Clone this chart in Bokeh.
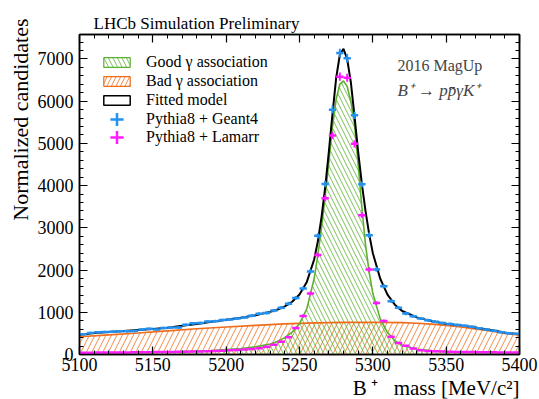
import numpy as np
from bokeh.plotting import figure
from bokeh.models import (Range1d, LinearAxis, SingleIntervalTicker, Label, Title,
                          Legend, LegendItem)
from bokeh.embed import file_html
from bokeh.resources import INLINE

# ---- data -------------------------------------------------------------
bin_centers = [5102.5, 5107.5, 5112.5, 5117.5, 5122.5, 5127.5, 5132.5, 5137.5, 5142.5, 5147.5,
               5152.5, 5157.5, 5162.5, 5167.5, 5172.5, 5177.5, 5182.5, 5187.5, 5192.5, 5197.5,
               5202.5, 5207.5, 5212.5, 5217.5, 5222.5, 5227.5, 5232.5, 5237.5, 5242.5, 5247.5,
               5252.5, 5257.5, 5262.5, 5267.5, 5272.5, 5277.5, 5282.5, 5287.5, 5292.5, 5297.5,
               5302.5, 5307.5, 5312.5, 5317.5, 5322.5, 5327.5, 5332.5, 5337.5, 5342.5, 5347.5,
               5352.5, 5357.5, 5362.5, 5367.5, 5372.5, 5377.5, 5382.5, 5387.5, 5392.5, 5397.5]
bin_half_width = 2.5

geant4 = [480, 510, 525, 535, 540, 548, 550, 558, 590, 612,
          590, 630, 640, 640, 705, 740, 745, 780, 790, 815,
          830, 850, 875, 920, 965, 985, 1040, 1110, 1205, 1340,
          1563, 1969, 2810, 4040, 5800, 7140, 7016, 5667, 4030, 2826,
          2016, 1615, 1260, 1110, 970, 905, 850, 810, 775, 745,
          725, 700, 680, 655, 620, 590, 560, 530, 505, 490]

lamarr = [42, 44, 45, 47, 48, 50, 50, 52, 54, 56,
          58, 60, 62, 64, 67, 70, 74, 78, 84, 90,
          98, 108, 118, 128, 150, 185, 230, 300, 410, 630,
          912, 1444, 2357, 3700, 5190, 6580, 6555, 4990, 3300, 2016,
          1222, 794, 420, 270, 210, 140, 100, 85, 75, 70,
          66, 62, 60, 58, 56, 54, 52, 50, 48, 46]

curve_x = [5100, 5110, 5120, 5130, 5140, 5150, 5160, 5170, 5180, 5190, 5200, 5210, 5220,
           5230, 5235, 5240, 5245, 5250, 5255, 5260, 5262.5, 5265, 5267.5, 5270, 5272.5,
           5275, 5277.5, 5280, 5282.5, 5285, 5287.5, 5290, 5292.5, 5295, 5297.5, 5300,
           5305, 5310, 5315, 5320, 5330, 5340, 5350, 5360, 5370, 5380, 5390, 5400]

fitted_model = [465, 510, 535, 555, 580, 605, 635, 680, 725, 775, 825, 870, 930,
                1010, 1065, 1140, 1250, 1420, 1720, 2250, 2680, 3250, 3950, 4800, 5700,
                6550, 7100, 7240, 7000, 6450, 5650, 4800, 4050, 3400, 2850, 2400,
                1800, 1420, 1180, 1030, 880, 790, 730, 690, 640, 580, 520, 480]

good_assoc = [30, 32, 36, 40, 45, 50, 58, 68, 80, 95, 115, 140, 180,
              250, 310, 400, 530, 730, 1080, 1800, 2350, 3000, 3750, 4550, 5400,
              6050, 6400, 6480, 6350, 6000, 5450, 4500, 3500, 2600, 1950, 1450,
              850, 520, 330, 220, 130, 90, 70, 58, 50, 45, 40, 36]

bad_x = [5100, 5120, 5140, 5160, 5180, 5200, 5220, 5240, 5260, 5280, 5300,
         5320, 5330, 5340, 5350, 5360, 5370, 5380, 5390, 5400]
bad_assoc = [420, 465, 510, 560, 610, 650, 690, 725, 750, 762, 765,
             755, 742, 720, 690, 650, 605, 555, 505, 455]

# ---- styles -------------------------------------------------------------
SERIF = "Liberation Serif"
BLUE = "#2391f0"
MAGENTA = "#ff1aff"
GREEN = "#5cb030"
ORANGE = "#ef6c1a"
OFF = [6000]  # legend proxy position, outside the visible range

p = figure(width=539, height=399, output_backend="svg", toolbar_location=None,
           x_range=Range1d(5100, 5400), y_range=Range1d(0, 7580),
           min_border_left=79, min_border_right=20, min_border_top=34, min_border_bottom=45)
p.grid.visible = False
p.outline_line_color = "black"
p.outline_line_width = 1.5
p.background_fill_color = "white"

# hatched areas
p.varea(x=bad_x, y1=0, y2=bad_assoc, fill_alpha=0, hatch_pattern="right_diagonal_line",
        hatch_color=ORANGE, hatch_scale=11, hatch_weight=0.8)
p.varea(x=curve_x, y1=0, y2=good_assoc, fill_alpha=0, hatch_pattern="left_diagonal_line",
        hatch_color=GREEN, hatch_scale=9, hatch_weight=0.8)
p.line(bad_x, bad_assoc, line_color=ORANGE, line_width=1.6)
p.line(curve_x, good_assoc, line_color=GREEN, line_width=1.6)
p.line(curve_x, fitted_model, line_color="black", line_width=2)

# legend proxies
r_good = p.quad(left=OFF, right=OFF, top=OFF, bottom=OFF, fill_alpha=0,
                hatch_pattern="left_diagonal_line", hatch_color=GREEN, hatch_scale=9,
                hatch_weight=0.8, line_color=GREEN, line_width=1.2)
r_bad = p.quad(left=OFF, right=OFF, top=OFF, bottom=OFF, fill_alpha=0,
               hatch_pattern="right_diagonal_line", hatch_color=ORANGE, hatch_scale=9,
               hatch_weight=0.8, line_color=ORANGE, line_width=1.2)
r_fit = p.quad(left=OFF, right=OFF, top=OFF, bottom=OFF, fill_alpha=0,
               line_color="black", line_width=1.5)


def points(vals, color):
    x = np.array(bin_centers)
    y = np.array(vals, dtype=float)
    err = 1.2 * np.sqrt(y)
    p.segment(x0=x - bin_half_width, x1=x + bin_half_width, y0=y, y1=y,
              line_color=color, line_width=2.5)
    p.segment(x0=x, x1=x, y0=y - err, y1=y + err, line_color=color, line_width=2)
    return p.scatter(x=OFF, y=OFF, marker="cross", size=16, line_color=color, line_width=2.5)


r_g4 = points(geant4, BLUE)
r_lm = points(lamarr, MAGENTA)

# axes
for ax in (p.xaxis[0], p.yaxis[0]):
    ax.major_label_text_font = SERIF
    ax.major_label_text_font_size = "18px"
    ax.major_label_text_color = "black"
    ax.axis_line_width = 1.5
    ax.major_tick_in = 8
    ax.major_tick_out = 0
    ax.minor_tick_in = 4
    ax.minor_tick_out = 0
    ax.major_tick_line_width = 1.2
    ax.minor_tick_line_width = 1
    ax.major_label_standoff = 6
p.xaxis[0].major_label_standoff = 3
p.xaxis[0].ticker = SingleIntervalTicker(interval=50, num_minor_ticks=5)
p.yaxis[0].ticker = SingleIntervalTicker(interval=1000, num_minor_ticks=5)

for loc in ("above", "right"):
    if loc == "above":
        ax = LinearAxis(ticker=SingleIntervalTicker(interval=50, num_minor_ticks=5))
    else:
        ax = LinearAxis(ticker=SingleIntervalTicker(interval=1000, num_minor_ticks=5))
    ax.major_label_text_font_size = "1px"
    ax.major_label_text_color = None
    ax.major_label_standoff = 0
    ax.axis_line_width = 1.5
    ax.major_tick_in = 8
    ax.major_tick_out = 0
    ax.minor_tick_in = 4
    ax.minor_tick_out = 0
    ax.major_tick_line_width = 1.2
    p.add_layout(ax, loc)

# titles / axis labels
p.title.text = "LHCb Simulation Preliminary"
p.title.text_font = SERIF
p.title.text_font_size = "17px"
p.title.text_font_style = "normal"
p.title.text_color = "black"
p.title.align = "left"
p.title.offset = 14
p.title.standoff = 4

p.add_layout(Title(text="Normalized candidates", text_font=SERIF, text_font_size="22px",
                   text_font_style="normal", text_color="black", align="right",
                   offset=-16, standoff=4), "left")
p.add_layout(Title(text="B\u2009⁺\u00a0\u00a0\u00a0mass [MeV/c²]", text_font=SERIF,
                   text_font_size="21px", text_font_style="normal", text_color="black",
                   align="right", standoff=0), "below")

p.add_layout(Label(x=5316.8, y=6845, text="2016 MagUp", text_font=SERIF,
                   text_font_size="16px", text_baseline="middle", text_align="left"))
p.add_layout(Label(x=5316.8, y=6253, text="B⁺ → pp̄γK⁺", text_font=SERIF,
                   text_font_style="italic", text_color="#444444",
                   text_font_size="17px", text_baseline="middle", text_align="left"))


# legends
def style(lg, gh, lh):
    lg.margin = 0
    lg.padding = 0
    lg.spacing = 1
    lg.glyph_width = 33
    lg.glyph_height = gh
    lg.label_height = lh
    lg.label_standoff = 13
    lg.label_text_font = SERIF
    lg.label_text_font_size = "16px"
    lg.label_text_color = "black"
    lg.border_line_color = None
    lg.background_fill_alpha = 0


lg_main = Legend(items=[LegendItem(label="Good γ association", renderers=[r_good]),
                        LegendItem(label="Bad γ association", renderers=[r_bad]),
                        LegendItem(label="Fitted model", renderers=[r_fit])],
                 location=(21, 245))
style(lg_main, 12, 18)
p.add_layout(lg_main)

lg_g4 = Legend(items=[LegendItem(label="Pythia8 + Geant4", renderers=[r_g4])],
               location=(21, 217))
style(lg_g4, 36, 18)
p.add_layout(lg_g4)

lg_lm = Legend(items=[LegendItem(label="Pythia8 + Lamarr", renderers=[r_lm])],
               location=(21, 199))
style(lg_lm, 36, 18)
p.add_layout(lg_lm)

open("out.html", "w").write(file_html(p, INLINE))
